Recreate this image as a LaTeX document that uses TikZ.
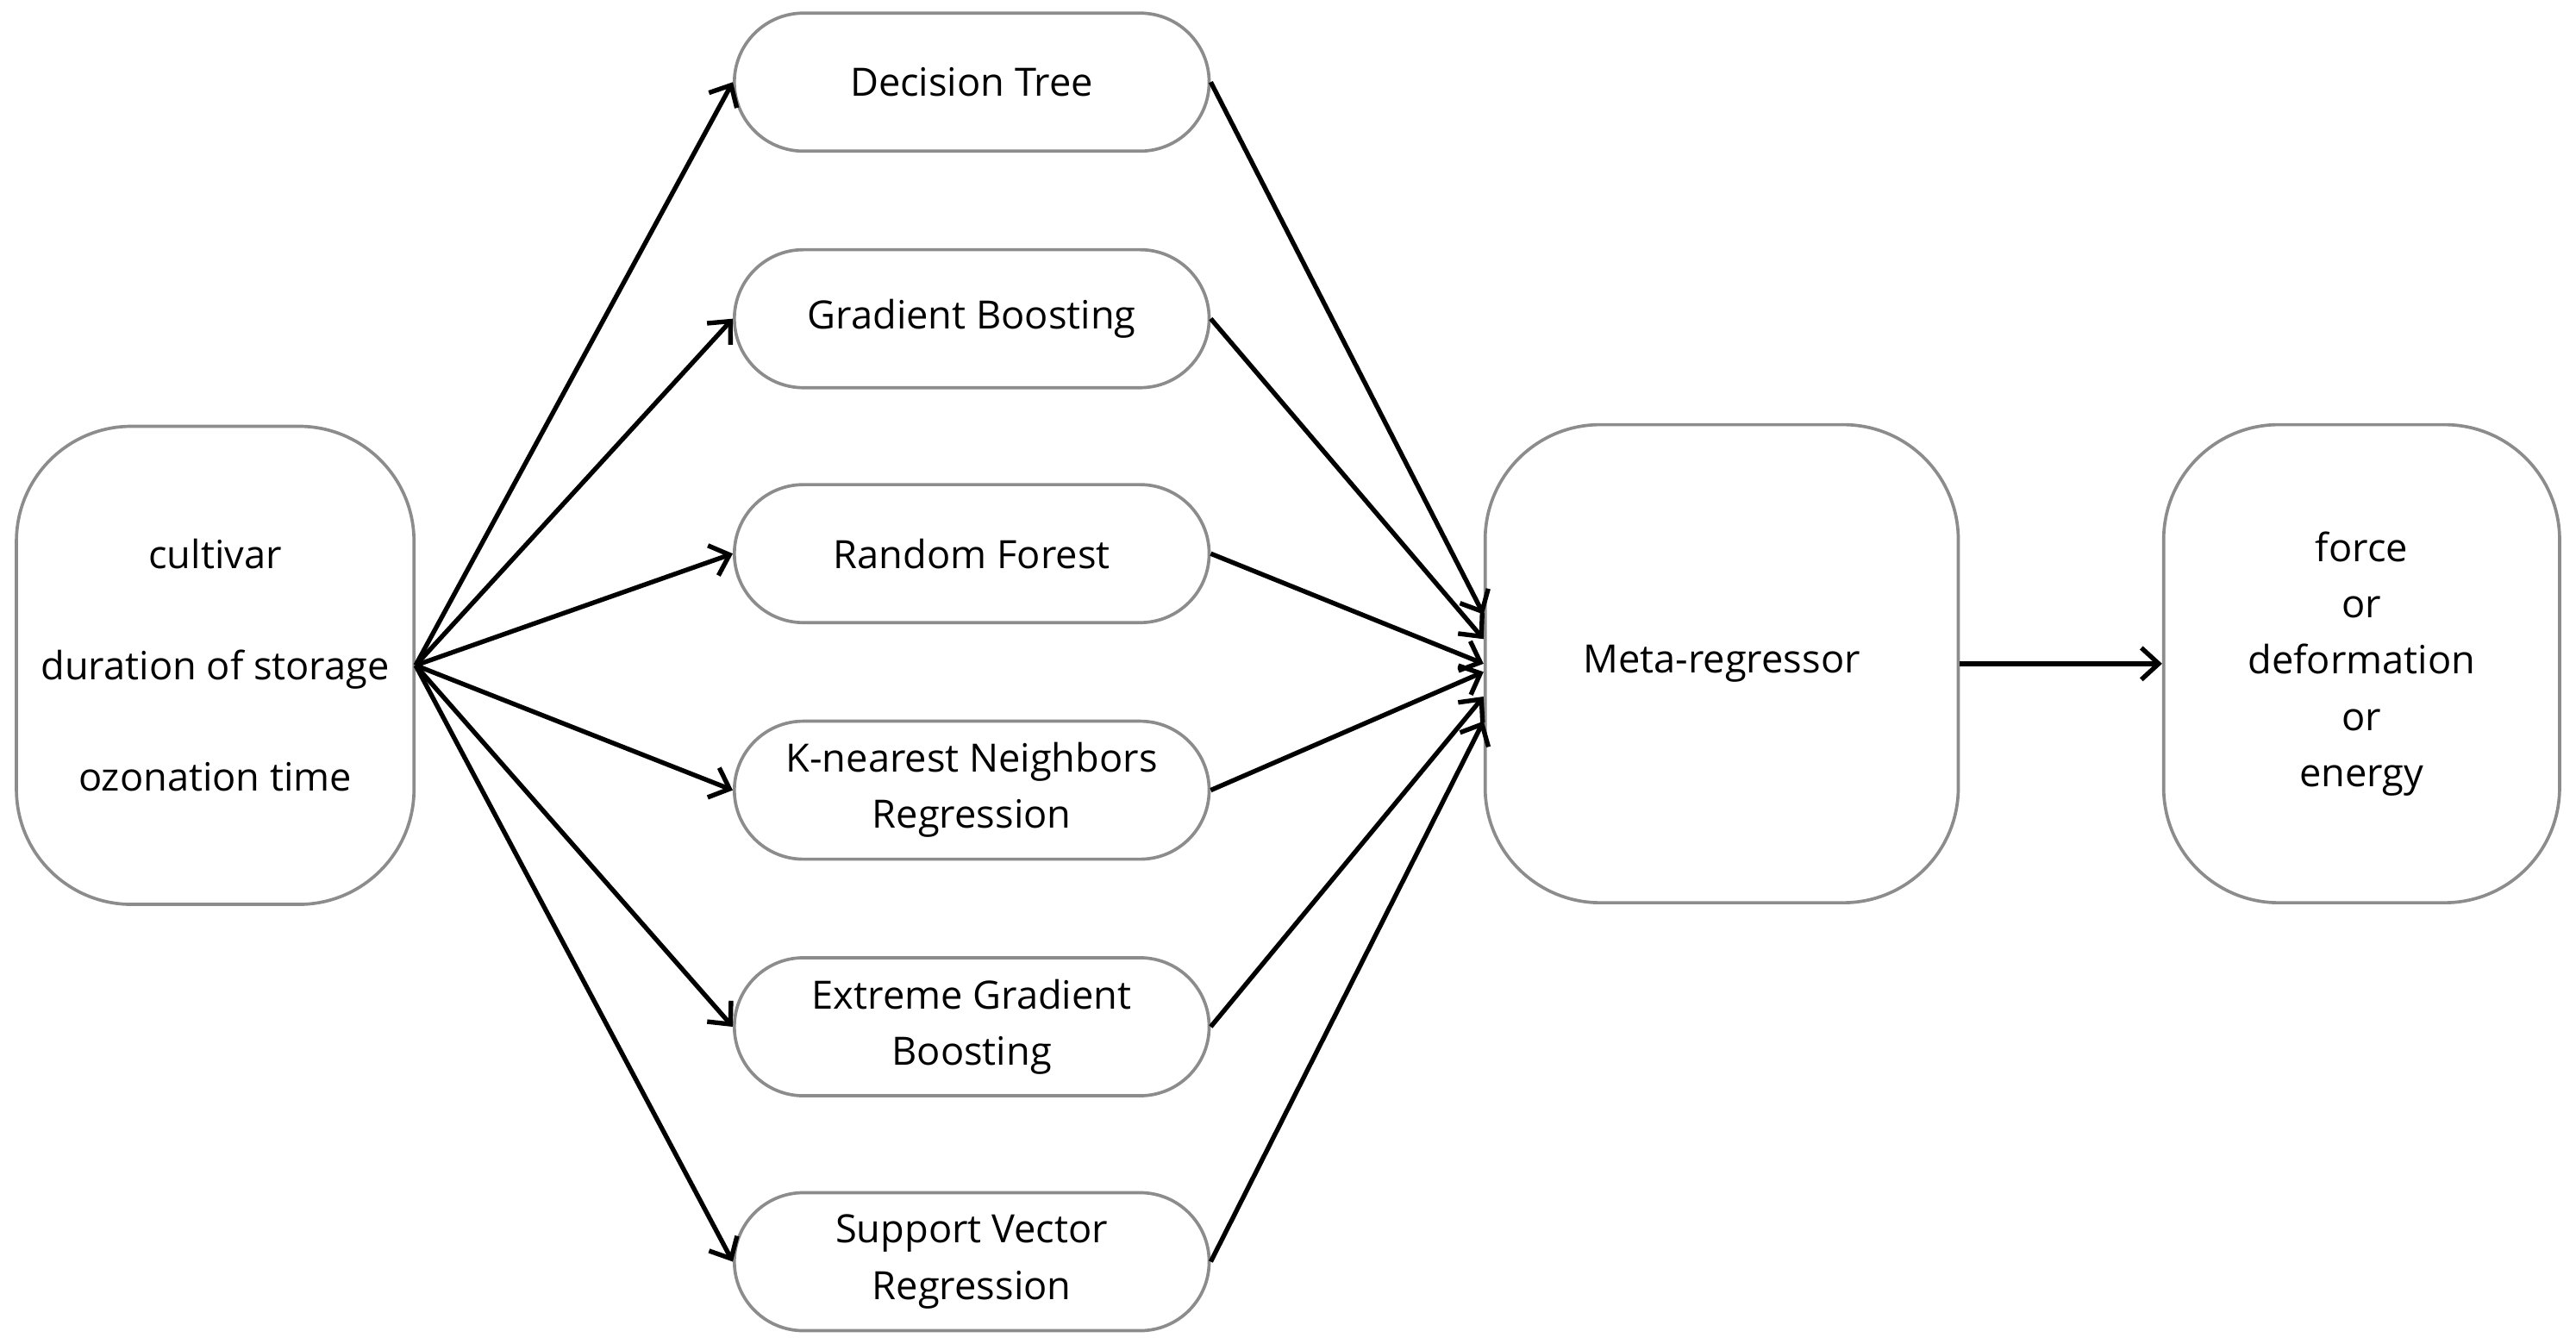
\documentclass[tikz,border=0pt]{standalone}
\usepackage{fontspec}
\setmainfont{Open Sans}
\usetikzlibrary{arrows.meta}
\begin{document}
\begin{tikzpicture}[
  box/.style={draw=black!45, line width=1.1pt, rounded corners=1.4cm, align=center,
    font=\fontsize{13.5}{19.5}\selectfont},
  model/.style={box, minimum width=5.78cm, minimum height=1.68cm, rounded corners=0.84cm},
  big/.style={box, minimum height=5.82cm},
  arr/.style={-{Straight Barb[length=6pt,width=11pt]}, line width=1.6pt}]
\useasboundingbox (0,0) rectangle (31.36,16.36);

\node[big, minimum width=4.84cm] (inp) at (2.62,8.26) {cultivar\\[19pt]duration of storage\\[19pt]ozonation time};

\node[model] (dt) at (11.83,15.36) {Decision Tree};
\node[model] (gb) at (11.83,12.48) {Gradient Boosting};
\node[model] (rf) at (11.83,9.62) {Random Forest};
\node[model] (knn) at (11.83,6.74) {K-nearest Neighbors\\Regression};
\node[model] (xgb) at (11.83,3.86) {Extreme Gradient\\Boosting};
\node[model] (svr) at (11.83,1.0) {Support Vector\\Regression};

\node[big, minimum width=5.76cm] (meta) at (20.96,8.28) {Meta-regressor};
\node[big, minimum width=4.82cm] (out) at (28.75,8.28) {force\\or\\deformation\\or\\energy};

% inputs to base models
\foreach \m in {dt,gb,rf,knn,xgb,svr}
  \draw[arr] (inp.east) -- (\m.west);

% base models to meta-regressor
\draw[arr] (dt.east) -- ([yshift=0.6cm]meta.west);
\draw[arr] (gb.east) -- ([yshift=0.3cm]meta.west);
\draw[arr] (rf.east) -- (meta.west);
\draw[arr] (knn.east) -- ([yshift=-0.1cm]meta.west);
\draw[arr] (xgb.east) -- ([yshift=-0.4cm]meta.west);
\draw[arr] (svr.east) -- ([yshift=-0.7cm]meta.west);

\draw[arr] (meta.east) -- (out.west);
\end{tikzpicture}
\end{document}
